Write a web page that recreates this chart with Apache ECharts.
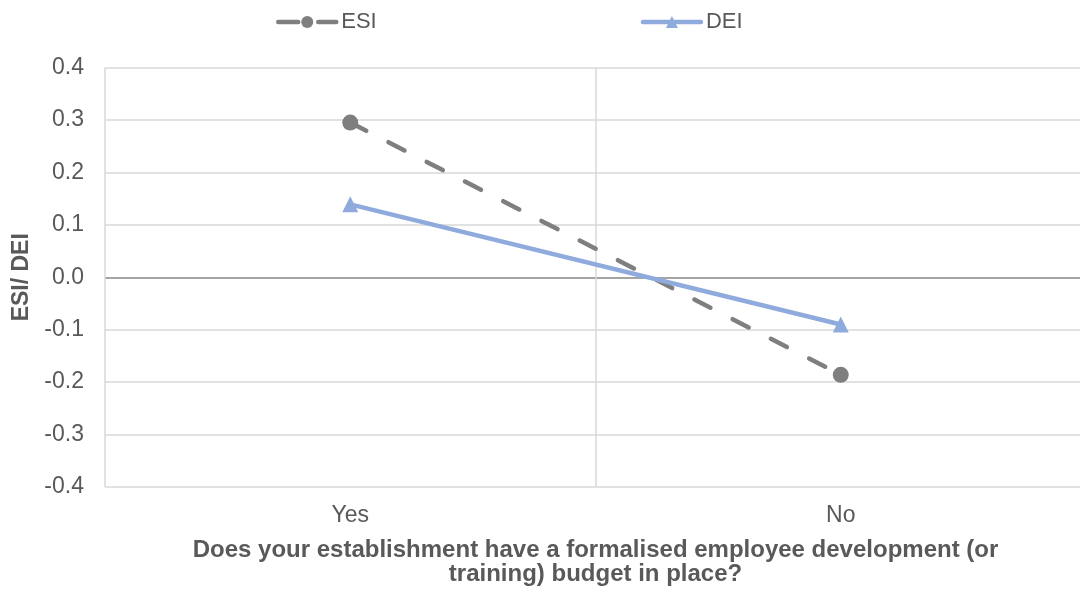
<!DOCTYPE html>
<html>
<head>
<meta charset="utf-8">
<script src="https://cdn.jsdelivr.net/npm/echarts@6/dist/echarts.min.js"></script>
<style>
  html, body { margin: 0; padding: 0; background: #ffffff; overflow: hidden; }
  #chart { width: 1086px; height: 594px; }
</style>
</head>
<body>
<div id="chart"></div>
<script>
// Budget answer categories on the x axis
const categories = ['Yes', 'No'];
// Index values per category
const esiValues = [0.295, -0.186];
const deiValues = [0.139, -0.090];
// Value axis range and step
const yMin = -0.4;
const yMax = 0.4;
const yStep = 0.1;

const gridColor = '#d9d9d9';
const zeroColor = '#868686';
const textColor = '#595959';
const esiColor = '#7f7f7f';
const deiColor = '#8faadc';
const fontFamily = '"Liberation Sans", Arial, sans-serif';

// one colour per horizontal grid line; the zero line is darker
const tickCount = Math.round((yMax - yMin) / yStep) + 1;
const splitColors = [];
for (let i = 0; i < tickCount; i++) {
  splitColors.push(Math.abs(yMin + i * yStep) < 1e-9 ? zeroColor : gridColor);
}

const chart = echarts.init(document.getElementById('chart'), null, { renderer: 'canvas' });

chart.setOption({
  animation: false,
  backgroundColor: '#ffffff',
  textStyle: { fontFamily: fontFamily },
  legend: {
    left: 271,
    top: 6,
    itemWidth: 58,
    itemHeight: 15,
    itemGap: 264,
    textStyle: { fontSize: 22, color: textColor, fontFamily: fontFamily },
    data: [
      { name: 'ESI', lineStyle: { width: 4.5, type: [20, 20], color: esiColor } },
      { name: 'DEI', lineStyle: { width: 4.5, color: deiColor } }
    ]
  },
  grid: {
    left: 105,
    right: 0,
    top: 67.5,
    bottom: 107,
    containLabel: false
  },
  xAxis: {
    type: 'category',
    data: categories,
    boundaryGap: true,
    axisLine: { show: false, onZero: false },
    axisTick: { show: false },
    axisLabel: { color: textColor, fontSize: 23, margin: 17, fontFamily: fontFamily },
    splitLine: { show: true, interval: 0, lineStyle: { color: gridColor, width: 1.5 } },
    name: 'Does your establishment have a formalised employee development (or\ntraining) budget in place?',
    nameLocation: 'middle',
    nameGap: 51,
    nameTextStyle: {
      fontSize: 24, fontWeight: 'bold', color: textColor, lineHeight: 24,
      fontFamily: fontFamily, verticalAlign: 'top'
    }
  },
  yAxis: {
    type: 'value',
    min: yMin,
    max: yMax,
    interval: yStep,
    axisLine: { show: false },
    axisTick: { show: false },
    axisLabel: {
      color: textColor, fontSize: 23, margin: 21, fontFamily: fontFamily,
      formatter: v => v.toFixed(1)
    },
    splitLine: { show: true, lineStyle: { color: splitColors, width: 1.5 } },
    name: 'ESI/ DEI',
    nameLocation: 'middle',
    nameGap: 70,
    nameRotate: 90,
    nameTextStyle: { fontSize: 23, fontWeight: 'bold', color: textColor, fontFamily: fontFamily }
  },
  series: [
    {
      name: 'ESI',
      type: 'line',
      data: esiValues,
      symbol: 'circle',
      symbolSize: 16,
      itemStyle: { color: esiColor },
      lineStyle: { color: esiColor, width: 4.5, type: [18, 25], cap: 'round' }
    },
    {
      name: 'DEI',
      type: 'line',
      data: deiValues,
      symbol: 'triangle',
      symbolSize: 16,
      itemStyle: { color: deiColor },
      lineStyle: { color: deiColor, width: 4.5, cap: 'round' }
    }
  ]
});
</script>
</body>
</html>
